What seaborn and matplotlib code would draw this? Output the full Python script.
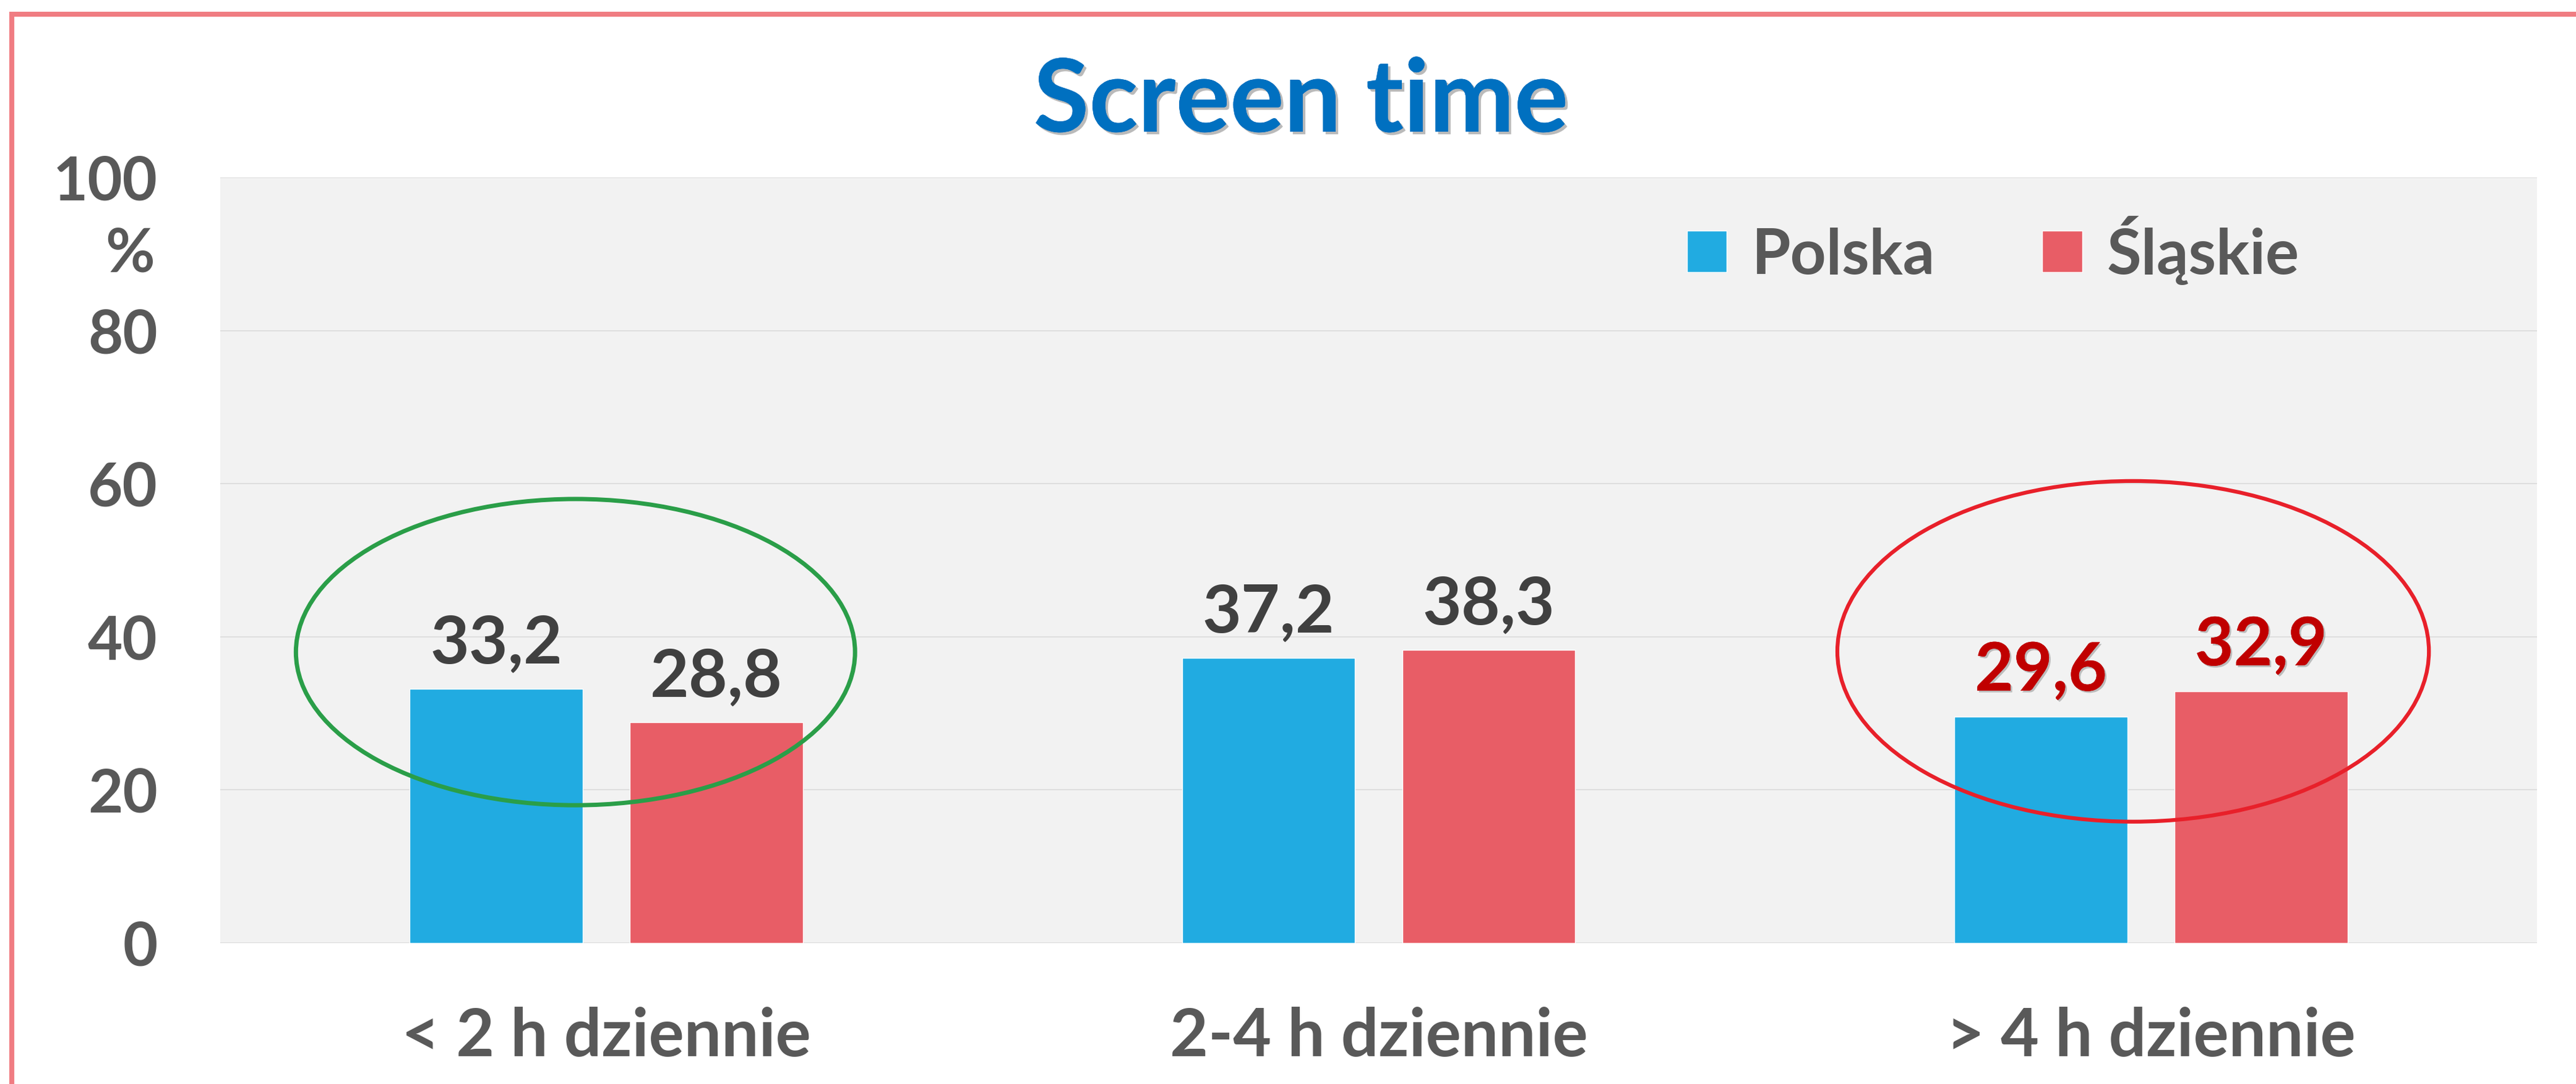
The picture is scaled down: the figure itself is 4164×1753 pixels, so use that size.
import matplotlib
matplotlib.use('Agg')
import matplotlib.pyplot as plt
import matplotlib.patheffects as pe
from matplotlib.patches import Ellipse, Rectangle
import pandas as pd
import seaborn as sns

# Dane
categories = ['< 2 h dziennie', '2-4 h dziennie', '> 4 h dziennie']
series = ['Polska', 'Śląskie']
polska = [33.2, 37.2, 29.6]
slaskie = [28.8, 38.3, 32.9]
y_ticks = [0, 20, 40, 60, 80, 100]
title = 'Screen time'
unit_label = '%'

# Kolory
BLUE = '#21ABE1'
RED = '#E85D66'
TEXT_GREY = '#595959'
LABEL_DARK = '#404040'
LABEL_RED = '#C00000'
GRID = '#D9D9D9'
PLOT_BG = '#F2F2F2'
FRAME_RED = '#F07C82'

df = pd.DataFrame({
    'kategoria': categories * 2,
    'seria': [series[0]] * len(categories) + [series[1]] * len(categories),
    'wartosc': polska + slaskie,
})

sns.set_style('white', {'axes.facecolor': PLOT_BG})
plt.rcParams['font.family'] = ['Lato', 'DejaVu Sans']
plt.rcParams['font.weight'] = 'bold'

W, H, DPI = 4164, 1753, 100
fig = plt.figure(figsize=(W / DPI, H / DPI), dpi=DPI)
fig.patch.set_facecolor('white')
ax = fig.add_axes([356 / W, 1 - 1525 / H, (4101 - 356) / W, (1525 - 287) / H])

sns.barplot(data=df, x='kategoria', y='wartosc', hue='seria',
            palette=[BLUE, RED], saturation=1, width=0.57, gap=0.214,
            errorbar=None, ax=ax, zorder=3)

ax.set_ylim(0, 100)
ax.set_yticks(y_ticks)
ax.set_xlabel('')
ax.set_ylabel('')
ax.grid(axis='y', color=GRID, linewidth=1.1, zorder=0)
ax.set_axisbelow(True)
ax.axhline(0, color=GRID, linewidth=2, zorder=2)
for s in ax.spines.values():
    s.set_visible(False)

ax.tick_params(axis='y', length=0, pad=73, labelsize=70, labelcolor=TEXT_GREY)
ax.tick_params(axis='x', length=0, pad=74, labelsize=77, labelcolor=TEXT_GREY)
for lbl in ax.get_xticklabels() + ax.get_yticklabels():
    lbl.set_fontweight('bold')

# jednostka "%" pod etykietą 100
ax.annotate(unit_label, xy=(0, 90), xycoords=('axes fraction', 'data'),
            xytext=(-76, 0), textcoords='offset points', ha='right', va='center',
            fontsize=70, fontweight='bold', color=TEXT_GREY)

# etykiety wartości
shadow = [pe.withSimplePatchShadow(offset=(2, -2), shadow_rgbFace='#888888', alpha=0.5), pe.Normal()]
for container, vals in zip(ax.containers, [polska, slaskie]):
    for i, (bar, v) in enumerate(zip(container, vals)):
        red = i == len(categories) - 1
        ax.annotate(f'{v:.1f}'.replace('.', ','),
                    xy=(bar.get_x() + bar.get_width() / 2, bar.get_height()),
                    xytext=(0, 30), textcoords='offset points',
                    ha='center', va='baseline', fontsize=78, fontweight='bold',
                    color=LABEL_RED if red else LABEL_DARK,
                    path_effects=shadow if red else None, zorder=5)

# wyróżnienia
ax.add_patch(Ellipse((-0.04, 38.0), 0.724, 40, fill=False, edgecolor='#2A9E48',
                     linewidth=5, zorder=6))
ax.add_patch(Ellipse((1.977, 38.1), 0.766, 44.5, fill=False, edgecolor='#E8202A',
                     linewidth=4.5, zorder=6))

handles, labels = ax.get_legend_handles_labels()
ax.legend(handles, labels, loc='center left', bbox_to_anchor=(0.633, 0.905),
          ncol=2, frameon=False, borderpad=0, borderaxespad=0,
          handlelength=0.64, handleheight=0.64, handletextpad=0.4,
          columnspacing=1.7, labelcolor=TEXT_GREY,
          prop={'weight': 'bold', 'size': 73})

fig.text(0.505, 1 - 213 / H, title, ha='center', va='baseline', fontsize=118,
         fontweight='bold', color='#0070C0',
         path_effects=[pe.withSimplePatchShadow(offset=(3, -3), shadow_rgbFace='#777777', alpha=0.5),
                       pe.Normal()])

# ramka slajdu
fig.add_artist(Rectangle((15 / W, 1 - 27 / H), 1 - 15 / W, 8 / H,
                         transform=fig.transFigure, color=FRAME_RED, linewidth=0))
fig.add_artist(Rectangle((15 / W, 0), 8 / W, 1 - 19 / H,
                         transform=fig.transFigure, color=FRAME_RED, linewidth=0))

fig.savefig('out.png', dpi=DPI)
